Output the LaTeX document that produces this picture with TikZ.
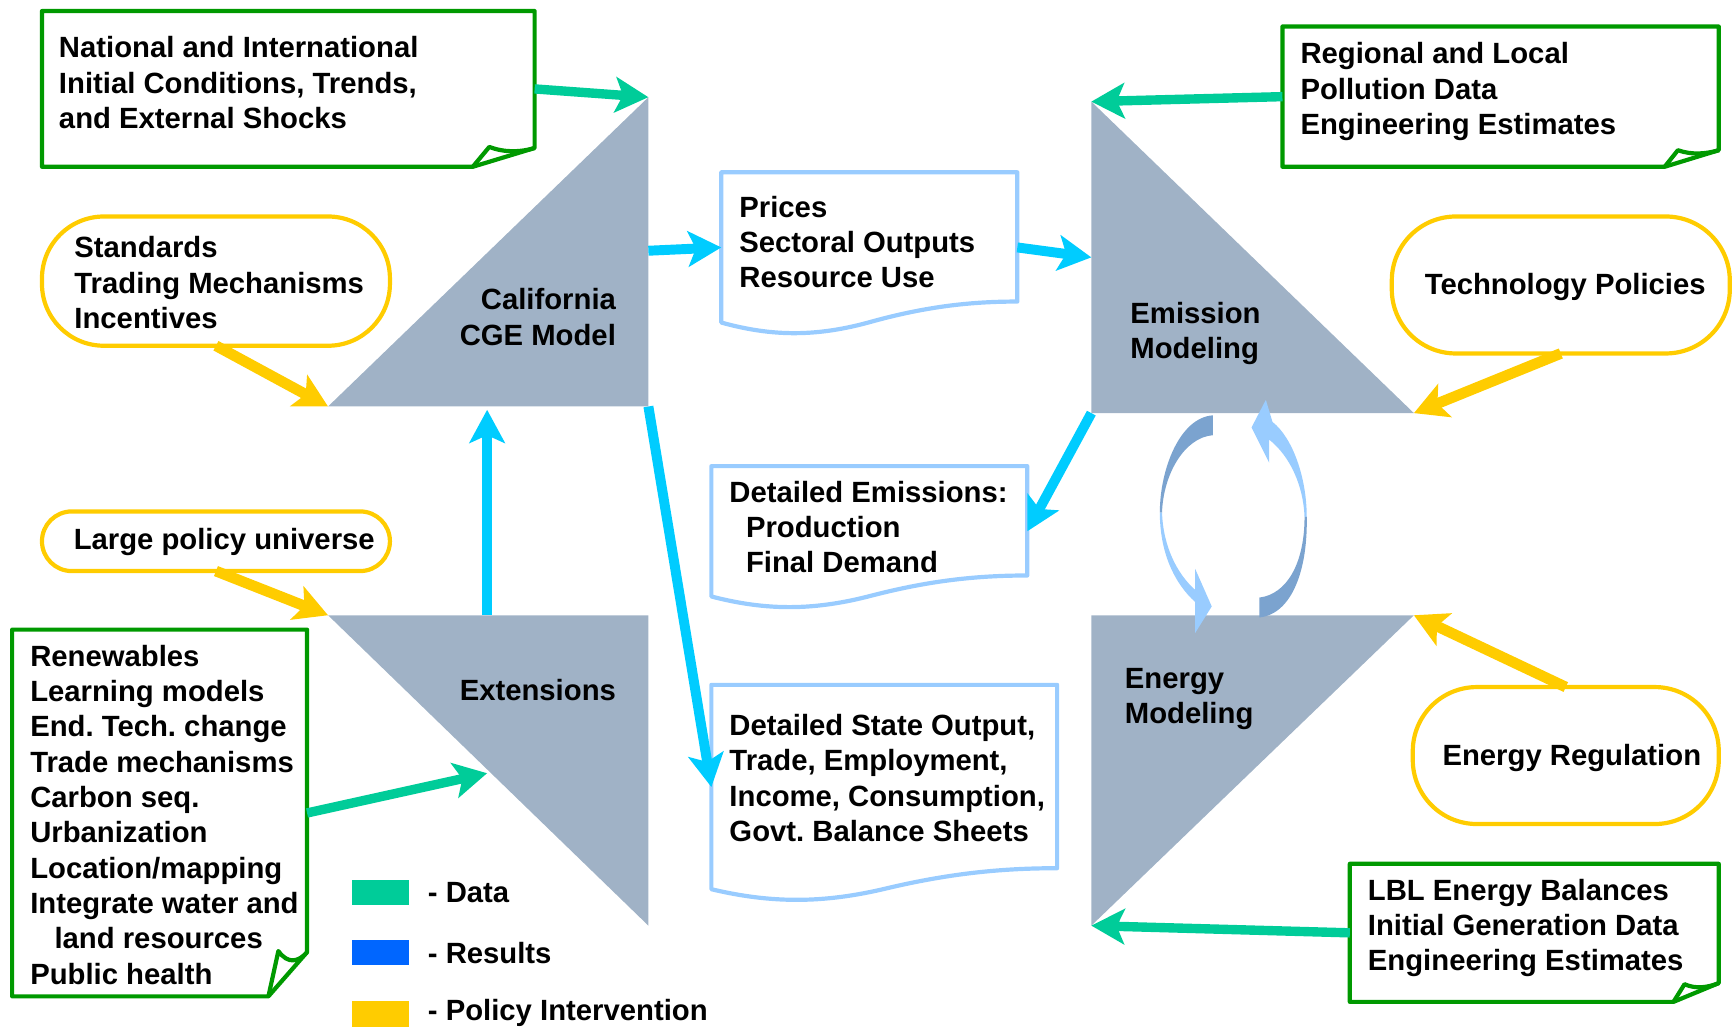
\documentclass[tikz,border=0pt]{standalone}
\usepackage{fontspec}
\setmainfont{Liberation Sans}
\usetikzlibrary{arrows.meta,calc}
\frenchspacing
\definecolor{boxgreen}{RGB}{0,153,0}
\definecolor{datagreen}{RGB}{0,204,153}
\definecolor{rescyan}{RGB}{0,204,255}
\definecolor{resblue}{RGB}{0,102,255}
\definecolor{poly}{RGB}{255,204,0}
\definecolor{trigray}{RGB}{160,178,198}
\definecolor{docblue}{RGB}{153,204,255}
\definecolor{cycdark}{RGB}{123,163,207}
\definecolor{cyclight}{RGB}{153,204,255}
\newcommand{\foldedbox}[5]{%
  \draw[greenline] (#1.north west) -- (#1.north east) -- ($(#1.south east)+(0,-#2)$) -- ($(#1.south east)+(-#3,0)$) -- (#1.south west) -- cycle;
  \draw[greenline] ($(#1.south east)+(-#3,0)$) -- ($(#1.south east)+(-#4,-#5)$) .. controls ($(#1.south east)+({-#4*0.66},{-#5*0.7})$) and ($(#1.south east)+({-#4*0.3},{-#2*0.78})$) .. ($(#1.south east)+(0,-#2)$);
}
\newcommand{\docbox}[1]{%
  \draw[docline] (#1.south west) -- (#1.north west) -- (#1.north east) -- ($(#1.south east)+(0,-19)$)
    .. controls ($(#1.south west)!0.85!(#1.south east)+(0,-19)$) and ($(#1.south west)!0.7!(#1.south east)+(0,-15)$) .. ($(#1.south west)!0.51!(#1.south east)+(0,-1)$)
    .. controls ($(#1.south west)!0.325!(#1.south east)+(0,13)$) and ($(#1.south west)!0.175!(#1.south east)+(0,13)$) .. cycle;
}
\begin{document}
\begin{tikzpicture}[x=0.5pt,y=-0.5pt,
  txt/.style={font=\bfseries\fontsize{13.25}{16}\selectfont\frenchspacing, inner sep=0pt, align=left},
  area/.style={rectangle, draw=none, inner sep=0pt, outer sep=0pt},
  pill/.style={rectangle, draw=poly, line width=1.9pt, inner sep=0pt, outer sep=0pt},
  greenline/.style={draw=boxgreen, line width=1.9pt, line join=round},
  docline/.style={draw=docblue, line width=1.9pt, line join=round},
  dataarrow/.style={draw=datagreen, line width=4.25pt, -{Stealth[length=15pt,width=16pt,inset=3.5pt]}},
  resarrow/.style={draw=rescyan, line width=4.5pt, -{Stealth[length=15pt,width=16pt,inset=3.5pt]}},
  polarrow/.style={draw=poly, line width=4.85pt, -{Stealth[length=15pt,width=16pt,inset=3.5pt]}}]
\useasboundingbox (0,0) rectangle (1568,930);

% triangle vertices
\coordinate (cgeL) at (297,368); \coordinate (cgeT) at (587,88); \coordinate (cgeR) at (587,368);
\coordinate (emT) at (988,92); \coordinate (emL) at (988,374); \coordinate (emR) at (1280,374);
\coordinate (enL) at (988,557); \coordinate (enR) at (1280,557); \coordinate (enB) at (988,838);
\coordinate (exL) at (297,557); \coordinate (exR) at (587,557); \coordinate (exB) at (587,838);
\coordinate (cgeOut) at (587,227); \coordinate (emIn) at (988,233);
\coordinate (exUp) at (441,557); \coordinate (cgeIn) at (441,371);
\coordinate (exIn) at (441,700);

% triangles
\fill[trigray] (cgeL) -- (cgeT) -- (cgeR) -- cycle;
\fill[trigray] (emT) -- (emL) -- (emR) -- cycle;
\fill[trigray] (enL) -- (enR) -- (enB) -- cycle;
\fill[trigray] (exL) -- (exR) -- (exB) -- cycle;

% box areas
\node[area, minimum width=223pt, minimum height=70.5pt] (natl) at (261,80.5) {};
\node[area, minimum width=134pt, minimum height=68pt] (prices) at (787,224) {};
\node[area, minimum width=197.5pt, minimum height=63.5pt] (reg) at (1358.5,87.5) {};
\node[area, minimum width=143pt, minimum height=59pt] (emis) at (787,481) {};
\node[area, minimum width=156.5pt, minimum height=92.5pt] (state) at (800.5,712.5) {};
\node[area, minimum width=167pt, minimum height=62.5pt] (lbl) at (1389,844.5) {};
\node[area, minimum width=133.5pt, minimum height=166pt] (renew) at (144.5,736) {};

% pills
\node[pill, rounded corners=28pt, minimum width=157.5pt, minimum height=58.5pt] (stand) at (195.5,254.5) {};
\node[pill, rounded corners=29pt, minimum width=153pt, minimum height=62pt] (tech) at (1413,258) {};
\node[pill, rounded corners=29pt, minimum width=138.5pt, minimum height=62pt] (ereg) at (1417.5,684) {};
\node[pill, rounded corners=13.5pt, minimum width=157.5pt, minimum height=27pt] (lpu) at (195.5,490) {};

% outlines
\foldedbox{natl}{17}{56}{41}{18}
\foldedbox{reg}{15}{49}{37}{15}
\foldedbox{lbl}{17}{41}{31}{16}
\foldedbox{renew}{40}{35}{26}{41}
\docbox{prices}
\docbox{emis}
\docbox{state}

% connectors
\draw[dataarrow] (natl.east) -- (cgeT);
\draw[dataarrow] (reg.west) -- (emT);
\draw[dataarrow] (lbl.west) -- (enB);
\draw[dataarrow] (renew.east) -- (exIn);
\draw[resarrow] (cgeOut) -- (prices.west);
\draw[resarrow] (prices.east) -- (emIn);
\draw[resarrow] (emL) -- (emis.east);
\draw[resarrow] (cgeR) -- (state.west);
\draw[resarrow] (exUp) -- (cgeIn);
\draw[polarrow] (stand.south) -- (cgeL);
\draw[polarrow] (tech.south) -- (emR);
\draw[polarrow] (ereg.north) -- (enR);
\draw[polarrow] (lpu.south) -- (exL);

% cycle arrows
\fill[cycdark] (1098,376) .. controls (1068,378) and (1050,425) .. (1050,464) -- (1052,464) .. controls (1053,430) and (1072,396) .. (1098,394) -- cycle;
\fill[cyclight] (1050,464) .. controls (1050,500) and (1063,528) .. (1082,545) -- (1082,573) -- (1097,549) -- (1082,515) -- (1082,534) .. controls (1066,520) and (1053,495) .. (1052,464) -- cycle;
\fill[cyclight] (1146,362) -- (1133,387) -- (1149,419) -- (1149,398) .. controls (1168,413) and (1180,440) .. (1181,468) -- (1183,468) .. controls (1183,432) and (1170,396) .. (1152,382) -- cycle;
\fill[cycdark] (1181,468) .. controls (1181,510) and (1165,538) .. (1140,541) -- (1140,559) .. controls (1170,556) and (1184,515) .. (1183,468) -- cycle;

% texts
\node[txt, anchor=west] (natlT) at (53,75) {National and International\\Initial Conditions, Trends,\\and External Shocks};
\node[txt, anchor=west] (standT) at (67,256) {Standards\\Trading Mechanisms\\Incentives};
\node[txt, anchor=east, align=right] (cgeLab) at (558,287) {California\\CGE Model};
\node[txt, anchor=west] (pricesT) at (669,219) {Prices\\Sectoral Outputs\\Resource Use};
\node[txt, anchor=west] (regT) at (1177,83) {Regional and Local\\Pollution Data\\Engineering Estimates};
\node[txt] (techT) at (1417,260) {Technology Policies};
\node[txt, anchor=west] (emLab) at (1023,302) {Emission\\Modeling};
\node[txt, anchor=west] (emisT) at (660,477) {Detailed Emissions:\\\hspace*{7.5pt}Production\\\hspace*{7.5pt}Final Demand};
\node[txt, anchor=west] (stateT) at (660,704.5) {Detailed State Output,\\Trade, Employment,\\Income, Consumption,\\Govt. Balance Sheets};
\node[txt, anchor=west] (enLab) at (1018,633) {Energy\\Modeling};
\node[txt] (eregT) at (1423,686) {Energy Regulation};
\node[txt, anchor=west] (lblT) at (1238,840) {LBL Energy Balances\\Initial Generation Data\\Engineering Estimates};
\node[txt] (lpuT) at (203,491) {Large policy universe};
\node[txt, anchor=east] (exLab) at (558,625) {Extensions};
\node[txt, anchor=west] (renewT) at (27,737.5) {Renewables\\Learning models\\End. Tech. change\\Trade mechanisms\\Carbon seq.\\Urbanization\\Location/mapping\\Integrate water and\\\hspace*{11pt}land resources\\Public health};

% legend
\fill[datagreen] (319,797) rectangle (370,819);
\fill[resblue] (319,851) rectangle (370,874);
\fill[poly] (319,906) rectangle (370,930);
\node[txt, anchor=west] (legData) at (387,808) {- Data};
\node[txt, anchor=west] (legRes) at (387,863) {- Results};
\node[txt, anchor=west] (legPol) at (387,917) {- Policy Intervention};
\end{tikzpicture}
\end{document}
